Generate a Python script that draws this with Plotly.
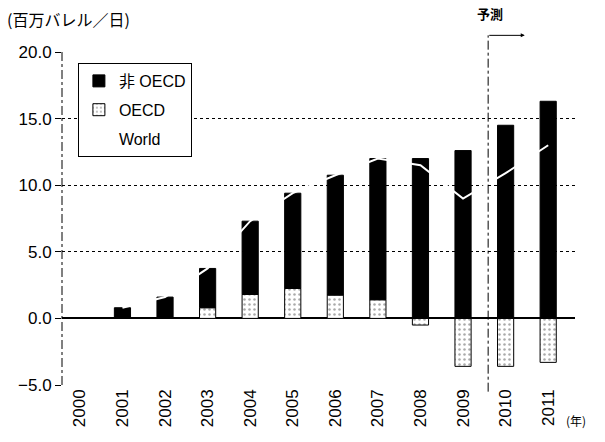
import plotly.graph_objects as go

years = [2000, 2001, 2002, 2003, 2004, 2005, 2006, 2007, 2008, 2009, 2010, 2011]
year_labels = [str(y) for y in years]
non_oecd = [0.0, 0.8, 1.6, 2.95, 5.5, 7.15, 9.0, 10.6, 12.0, 12.6, 14.5, 16.3]
oecd = [0.0, 0.0, 0.0, 0.8, 1.8, 2.25, 1.75, 1.4, -0.5, -3.6, -3.6, -3.3]
world = [n + o for n, o in zip(non_oecd, oecd)]
y_ticks = [-5, 0, 5, 10, 15, 20]
y_tick_labels = ["\u22125.0", "0.0", "5.0", "10.0", "15.0", "20.0"]

font_lat = "Liberation Sans, Arial, sans-serif"
font_jp = "Noto Sans CJK JP, sans-serif"

fig = go.Figure()
fig.add_trace(go.Bar(
    x=years, y=oecd, name="OECD", legendrank=2, legendgroup="b",
    marker=dict(color="white", line=dict(color="black", width=1),
                pattern=dict(shape=".", fgcolor="#555555", bgcolor="white", size=5, solidity=0.2)),
    width=0.38,
))
fig.add_trace(go.Bar(
    x=years, y=non_oecd, name="非 OECD", legendrank=1, legendgroup="a",
    marker=dict(color="black", line=dict(color="black", width=1)),
    width=0.38,
))
fig.add_trace(go.Scatter(
    x=years[1:], y=world[1:], name="World", mode="lines", legendrank=3, legendgroup="c",
    line=dict(color="white", width=2),
))

fig.update_layout(
    barmode="relative",
    width=605, height=442,
    margin=dict(l=62, r=30, t=52, b=57),
    paper_bgcolor="white", plot_bgcolor="white",
    font=dict(family=font_lat, color="black", size=14),
    showlegend=True,
    legend=dict(
        x=0.031, y=0.967, xanchor="left", yanchor="top",
        bordercolor="black", borderwidth=1, bgcolor="white",
        font=dict(family="Liberation Sans, Noto Sans CJK JP, sans-serif", size=16),
        tracegroupgap=5, itemwidth=30,
    ),
    xaxis=dict(
        range=[1999.58, 2011.63],
        tickmode="array", tickvals=years, ticktext=year_labels,
        tickangle=-90, tickfont=dict(size=17),
        showgrid=False, zeroline=False, showline=False, ticks="",
    ),
    yaxis=dict(
        range=[-5, 20],
        tickmode="array", tickvals=y_ticks, ticktext=y_tick_labels,
        tickfont=dict(size=17),
        showgrid=True, gridcolor="black", griddash="dot", gridwidth=1,
        zeroline=True, zerolinecolor="black", zerolinewidth=1.5,
        showline=False,
        ticks="outside", ticklen=6, tickcolor="black",
    ),
)

# y axis line (dash-dot)
fig.add_shape(type="line", xref="paper", yref="paper", x0=0, x1=0, y0=0, y1=1,
              line=dict(color="black", width=1, dash="dashdot"))
# forecast divider
fig.add_shape(type="line", xref="x", yref="paper", x0=2009.59, x1=2009.59, y0=-0.02, y1=1.05,
              line=dict(color="black", width=1, dash="dashdot"))
fig.add_annotation(xref="x", yref="paper", x=2010.45, y=1.05, ax=-37, ay=0,
                   axref="pixel", ayref="pixel", showarrow=True, arrowhead=2, arrowsize=0.8,
                   arrowwidth=1, arrowcolor="black", text="")
fig.add_annotation(xref="paper", yref="paper", x=(505 - 62) / 513, y=1 + (52 - 25) / 333,
                   yanchor="bottom",
                   showarrow=False, text="<b>予測</b>", font=dict(family=font_jp, size=13))
fig.add_annotation(xref="paper", yref="paper", x=(5 - 62) / 513, y=1 + (52 - 19) / 333,
                   xanchor="left", yanchor="middle",
                   showarrow=False, text="(百万バレル／日)", font=dict(family=font_jp, size=16))
fig.add_annotation(xref="paper", yref="paper", x=(588 - 62) / 513, y=-(420 - 385) / 333,
                   yanchor="middle",
                   showarrow=False, text="(年)", font=dict(family=font_jp, size=12))

fig.write_html("out.html", config={"displayModeBar": False},
               post_script="document.body.style.margin='0px';")
